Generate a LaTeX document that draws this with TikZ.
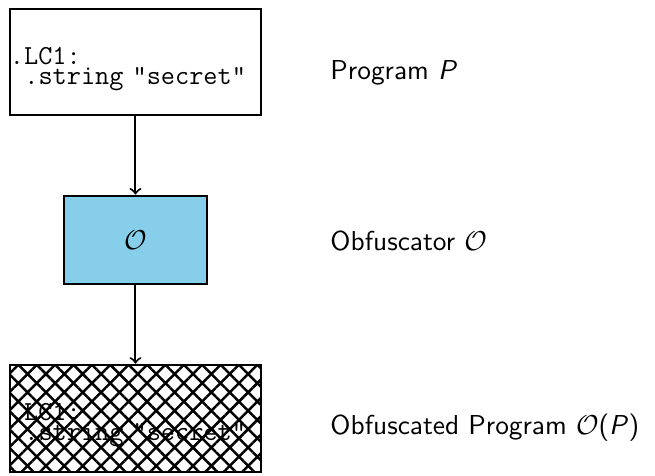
\documentclass[tikz,border=0pt,11pt]{standalone}
\usetikzlibrary{positioning,patterns.meta}
\definecolor{obfblue}{RGB}{135,206,235}
\tikzset{
  codebox/.style={draw,thick,text width=3.53cm,minimum height=1.5cm,inner xsep=0pt,
    align=left,font=\fontsize{11}{13.6}\selectfont\ttfamily},
  obfbox/.style={draw,thick,fill=obfblue,minimum width=2cm,minimum height=1.25cm},
  hatched/.style={pattern={Hatch[angle=45,distance=5.2pt,line width=1pt]}},
  sidelabel/.style={anchor=base west,inner xsep=0pt,font=\sffamily}
}
% the assembly listing, set a little low in its box
\newcommand{\lcstring}{\rule{0pt}{12.5pt}.LC1:\\[-5.6pt]\hspace*{0.525em}.string "secret"}
\begin{document}
\begin{tikzpicture}[>=to]
\useasboundingbox (0,0) rectangle (9.21,-6.68);
% program, obfuscator and the obfuscated result, top to bottom
\node[codebox] (prog) at (1.905,-0.872) {\lcstring};
\node[obfbox,below=1.1cm of prog] (obf) {$\mathcal{O}$};
\node[codebox,hatched,below=1.1cm of obf] (obfprog) {\lcstring};
\draw[->,thick] (prog) -- (obf);
\draw[->,thick] (obf) -- (obfprog);
% names on the right
\node[sidelabel] (lprog) at (4.64,-1.125) {Program \textit{P}};
\node[sidelabel] (lobf) at (4.64,-3.529) {Obfuscator $\mathcal{O}$};
\node[sidelabel] (lobfprog) at (4.64,-6.115) {Obfuscated Program $\mathcal{O}$(\textit{P})};
\end{tikzpicture}
\end{document}
